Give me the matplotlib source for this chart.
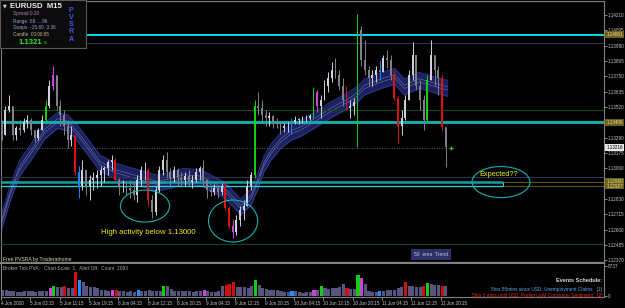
import matplotlib
matplotlib.use('Agg')
import numpy as np
import matplotlib.pyplot as plt
from matplotlib.patches import Ellipse, Rectangle

# EURUSD M15, grouped into hourly bars (4 x M15)
high = [
    1.1342, 1.1353, 1.1361, 1.1353, 1.1338, 1.1342, 1.1344, 1.1346, 1.1344, 1.1335,
    1.1336, 1.1346, 1.1357, 1.1372, 1.1383, 1.1376, 1.1357, 1.1350, 1.1342, 1.1338,
    1.1331, 1.1308, 1.1312, 1.1305, 1.1301, 1.1303, 1.1305, 1.1308, 1.1308, 1.1312,
    1.1316, 1.1314, 1.1299, 1.1297, 1.1296, 1.1297, 1.1296, 1.1301, 1.1308, 1.1311,
    1.1306, 1.1286, 1.1293, 1.1308, 1.1316, 1.1318, 1.1306, 1.1308, 1.1306, 1.1303,
    1.1303, 1.1305, 1.1301, 1.1306, 1.1308, 1.1312, 1.1297, 1.1293, 1.1294, 1.1293,
    1.1295, 1.1295, 1.1278, 1.1267, 1.1271, 1.1278, 1.1282, 1.1297, 1.1303, 1.1357,
    1.1363, 1.1357, 1.1350, 1.1348, 1.1346, 1.1344, 1.1341, 1.1340, 1.1341, 1.1344,
    1.1345, 1.1344, 1.1345, 1.1346, 1.1347, 1.1367, 1.1365, 1.1361, 1.1372, 1.1378,
    1.1386, 1.1389, 1.1380, 1.1374, 1.1368, 1.1357, 1.1359, 1.1422, 1.1413, 1.1402,
    1.1383, 1.1380, 1.1383, 1.1387, 1.1391, 1.1395, 1.1391, 1.1380, 1.1360, 1.1350,
    1.1361, 1.1380, 1.1401, 1.1391, 1.1372, 1.1361, 1.1376, 1.1402, 1.1391, 1.1383,
    1.1376, 1.1337]
low = [
    1.1327, 1.1331, 1.1348, 1.1327, 1.1327, 1.1331, 1.1333, 1.1336, 1.1331, 1.1326,
    1.1327, 1.1335, 1.1341, 1.1351, 1.1365, 1.1350, 1.1338, 1.1331, 1.1321, 1.1323,
    1.1301, 1.1284, 1.1290, 1.1286, 1.1282, 1.1290, 1.1291, 1.1293, 1.1296, 1.1301,
    1.1305, 1.1296, 1.1286, 1.1288, 1.1286, 1.1284, 1.1282, 1.1281, 1.1293, 1.1297,
    1.1278, 1.1269, 1.1271, 1.1288, 1.1301, 1.1299, 1.1293, 1.1296, 1.1293, 1.1292,
    1.1293, 1.1293, 1.1291, 1.1296, 1.1297, 1.1293, 1.1284, 1.1285, 1.1286, 1.1284,
    1.1286, 1.1275, 1.1261, 1.1254, 1.1256, 1.1263, 1.1267, 1.1278, 1.1290, 1.1299,
    1.1346, 1.1341, 1.1338, 1.1338, 1.1336, 1.1336, 1.1332, 1.1333, 1.1333, 1.1332,
    1.1339, 1.1339, 1.1340, 1.1341, 1.1342, 1.1344, 1.1348, 1.1344, 1.1357, 1.1363,
    1.1371, 1.1374, 1.1365, 1.1353, 1.1350, 1.1344, 1.1346, 1.1322, 1.1383, 1.1376,
    1.1368, 1.1368, 1.1371, 1.1372, 1.1378, 1.1381, 1.1372, 1.1357, 1.1325, 1.1331,
    1.1342, 1.1357, 1.1372, 1.1365, 1.1350, 1.1335, 1.1341, 1.1372, 1.1368, 1.1361,
    1.1335, 1.1307]
close = [
    1.1331, 1.1350, 1.1353, 1.1331, 1.1336, 1.1335, 1.1341, 1.1342, 1.1335, 1.1329,
    1.1335, 1.1342, 1.1353, 1.1368, 1.1376, 1.1353, 1.1346, 1.1338, 1.1327, 1.1331,
    1.1303, 1.1293, 1.1305, 1.1293, 1.1297, 1.1299, 1.1301, 1.1305, 1.1306, 1.1311,
    1.1312, 1.1297, 1.1293, 1.1293, 1.1291, 1.1290, 1.1286, 1.1297, 1.1305, 1.1305,
    1.1282, 1.1273, 1.1290, 1.1305, 1.1312, 1.1303, 1.1299, 1.1305, 1.1299, 1.1297,
    1.1300, 1.1296, 1.1297, 1.1303, 1.1306, 1.1297, 1.1290, 1.1288, 1.1291, 1.1288,
    1.1293, 1.1276, 1.1263, 1.1258, 1.1267, 1.1275, 1.1278, 1.1293, 1.1301, 1.1353,
    1.1351, 1.1346, 1.1344, 1.1345, 1.1341, 1.1339, 1.1336, 1.1338, 1.1338, 1.1341,
    1.1342, 1.1343, 1.1344, 1.1344, 1.1345, 1.1363, 1.1353, 1.1357, 1.1368, 1.1374,
    1.1380, 1.1376, 1.1368, 1.1357, 1.1351, 1.1353, 1.1356, 1.1410, 1.1387, 1.1380,
    1.1374, 1.1376, 1.1380, 1.1378, 1.1389, 1.1387, 1.1376, 1.1359, 1.1338, 1.1344,
    1.1357, 1.1376, 1.1391, 1.1368, 1.1357, 1.1342, 1.1372, 1.1391, 1.1380, 1.1374,
    1.1337, 1.1322]
first_open = 1.1336

# PVSRA candle highlights (bar index)
red_bars = [20, 31, 40, 61, 62, 94, 107, 108, 120]
green_bars = [12, 69, 85, 97, 116]
magenta_bars = [14, 63, 86]
blue_bars = [21, 79, 103]

# tick volume
volume = [
    1350, 1340, 1120, 1120, 900, 900, 1120, 1130, 1120, 900,
    1120, 1120, 1130, 1800, 2250, 2020, 2030, 2250, 1800, 1790,
    5390, 3600, 3150, 2250, 2020, 2020, 1800, 1350, 1340, 1120,
    1350, 1350, 1120, 1120, 900, 1120, 900, 1350, 1120, 1120,
    1350, 1120, 1120, 1120, 2250, 2240, 1570, 1120, 1120, 1130,
    1120, 1120, 900, 1120, 1120, 1350, 1120, 900, 900, 1120,
    2250, 2470, 2700, 3150, 2020, 2020, 2030, 1800, 2250, 3600,
    2470, 1800, 1570, 1350, 1350, 1340, 1120, 900, 900, 1120,
    1120, 900, 670, 900, 900, 1350, 1350, 2250, 1800, 1570,
    1800, 1800, 2020, 2700, 1800, 1570, 1570, 4720, 4040, 2700,
    1120, 900, 900, 1120, 1120, 1350, 1350, 1350, 1800, 2020,
    3150, 2250, 2250, 2020, 2020, 2250, 2920, 2700, 2470, 2470,
    2250, 2250]
vol_red = [17, 20, 31, 61, 62, 63, 94, 110, 115, 120]
vol_green = [14, 44, 69, 87, 97, 116]
vol_blue = [21, 37, 79, 103]
vol_magenta = [13, 30, 55, 85, 98]

# 50 ema ribbon, read at turning points
ema_x = [0, 2.2, 4.9, 8.5, 11.8, 15.3, 18.1, 20.5, 24.1, 26.8, 30.9, 35.9, 42.4,
         46, 49.6, 54.2, 57.8, 61.1, 65.2, 67.9, 69.8, 71.5, 73.4, 76.1, 78.9,
         81.6, 85.2, 89.8, 94.5, 96.7, 98.9, 103.5, 107.1, 109.8, 113.7, 116.4,
         120, 121.6]
ema_y = [1.1266, 1.1286, 1.1306, 1.1320, 1.1334, 1.1342, 1.1340, 1.1333, 1.1320,
         1.1310, 1.1304, 1.1300, 1.1295, 1.1297, 1.1300, 1.1299, 1.1294, 1.1289,
         1.1277, 1.1284, 1.1296, 1.1309, 1.1318, 1.1327, 1.1333, 1.1336, 1.1342,
         1.1350, 1.1357, 1.1361, 1.1367, 1.1372, 1.1375, 1.1367, 1.1372, 1.1370,
         1.1367, 1.1366]

# horizontal levels: price, colour, width, end (None = full width)
levels = [
    (1.14061, '#00e0ea', 1.4, None),
    (1.13998, '#2c3350', 0.8, None),
    (1.13497, '#0d4a16', 0.8, None),
    (1.13406, '#16a8a8', 2.2, None),
    (1.12995, '#2c3350', 0.8, None),
    (1.12961, '#16a0a0', 1.8, 136.6),
    (1.12927, '#20d8d8', 0.9, 136.6),
    (1.12492, '#0d4a16', 0.8, None),
]
current_price = 1.13216

price_ticks = [1.14210, 1.14095, 1.13980, 1.13865, 1.13750, 1.13635, 1.13520,
               1.13290, 1.13175, 1.13060, 1.12830, 1.12715, 1.12600, 1.12485,
               1.12370]
time_labels = ['4 Jun 2020', '5 Jun 03:15', '5 Jun 11:15', '5 Jun 19:15',
               '8 Jun 04:15', '8 Jun 12:15', '8 Jun 20:15', '9 Jun 04:15',
               '9 Jun 12:15', '9 Jun 20:15', '10 Jun 04:15', '10 Jun 12:15',
               '10 Jun 20:15', '11 Jun 04:15', '11 Jun 12:15', '11 Jun 20:15']

W, H = 625, 308
def fx(px): return px / W
def fy(py): return 1 - py / H

plt.rcParams['font.family'] = ['Liberation Sans', 'DejaVu Sans']
fig = plt.figure(figsize=(6.25, 3.08), dpi=100, facecolor='black')
ax = fig.add_axes([fx(1), fy(263), fx(604) - fx(1), fy(1) - fy(263)], facecolor='black')
vax = fig.add_axes([fx(1), fy(297), fx(604) - fx(1), fy(264) - fy(297)], facecolor='black')

n = len(close)
hours = np.arange(n)
opens = np.array([first_open] + close[:-1])
close_a = np.array(close)

# ema ribbon
ex = np.array(ema_x)
ey = np.array(ema_y)
ax.fill_between(ex, ey - 0.0006, ey + 0.0006, color='#1b2160', lw=0, zorder=1)
for off, c, lw in [(-0.0006, '#343d92', 0.6), (0.0006, '#343d92', 0.6),
                   (-0.00012, '#7d82a8', 0.35), (0.00012, '#7d82a8', 0.35)]:
    ax.plot(ex, ey + off, color=c, lw=lw, zorder=2)

# levels
for price, c, lw, end in levels:
    if end is None:
        ax.axhline(price, color=c, lw=lw, zorder=3)
    else:
        ax.hlines(price, -1, end, color=c, lw=lw, zorder=3)
        ax.hlines(price, end, 170, color='#6a5a12', lw=0.7, zorder=3)
ax.vlines(136.6, 1.12927, 1.12961, color='#20d8d8', lw=0.8, zorder=3)
ax.hlines(current_price, -1, 121, color='#707070', lw=0.6, ls=(0, (1, 2)), zorder=3)

# candles
colors = []
for i in range(n):
    if i in red_bars:
        colors.append('#e01010')
    elif i in green_bars:
        colors.append('#10d010')
    elif i in magenta_bars:
        colors.append('#d040e0')
    elif i in blue_bars:
        colors.append('#2080ff')
    elif close_a[i] >= opens[i]:
        colors.append('#d0d0d8')
    else:
        colors.append('#80808c')
ax.vlines(hours, low, high, colors=colors, lw=0.7, zorder=4)
ax.bar(hours, close_a - opens, bottom=opens, width=0.5, color=colors, lw=0, zorder=5)
ax.plot(n + 0.4, current_price, marker='+', color='#20e020', ms=3, mew=0.8, zorder=6)

# ellipses and notes
for cx, cy, w, h in [(39.1, 1.12777, 13.4, 0.0024), (63.1, 1.12665, 13.4, 0.00315),
                     (136.1, 1.12957, 15.8, 0.00233)]:
    ax.add_patch(Ellipse((cx, cy), w, h, fill=False, ec='#19b0b0', lw=0.8, zorder=7))
ax.text(27.1, 1.12582, 'High activity below 1.13000', color='#f0f000', fontsize=5.6,
        va='center', ha='left', zorder=8)
ax.text(130.1, 1.13010, 'Expected??', color='#f0f000', fontsize=5.3,
        va='center', ha='left', zorder=8)
ax.text(117.0, 1.12413, '50  ema  Trend', color='#c8c8d8', fontsize=3.6, va='center',
        ha='center', zorder=8,
        bbox=dict(boxstyle='square,pad=0.55', fc='#2a3068', ec='none'))

ax.set_xlim(-0.14, 164.17)
ax.set_ylim(1.12350, 1.14315)
ax.yaxis.tick_right()
ax.set_yticks(price_ticks)
ax.set_yticklabels(['%.5f' % p for p in price_ticks])
ax.tick_params(axis='y', colors='#c8c8c8', labelsize=3.3, length=2, width=0.5, pad=1)
ax.tick_params(axis='x', bottom=False, labelbottom=False)
for s in ax.spines.values():
    s.set_color('#808080')
    s.set_linewidth(0.8)
ax.spines['bottom'].set_linewidth(1.6)

tr = ax.get_yaxis_transform()
for price, txt, fc, tc in [(1.14061, '1.14061', '#6e6010', '#e0e0b0'),
                           (1.13406, '1.13406', '#6e6010', '#e0e0b0'),
                           (1.12961, '1.12960', '#6e6010', '#e0e0b0'),
                           (1.12927, '1.12927', '#6e6010', '#e0e0b0'),
                           (current_price, '1.13216', '#e8e8e8', '#000000')]:
    ax.text(1.004, price, txt, transform=tr, fontsize=3.3, color=tc, va='center', ha='left',
            bbox=dict(boxstyle='square,pad=0.2', fc=fc, ec='none'), zorder=9)

# volume panel
vcol = []
for i in range(n):
    if i in vol_red:
        vcol.append('#d01010')
    elif i in vol_green:
        vcol.append('#10d010')
    elif i in vol_blue:
        vcol.append('#2090ff')
    elif i in vol_magenta:
        vcol.append('#d040e0')
    else:
        vcol.append('#55557e')
vax.bar(hours, volume, width=0.85, color=vcol, lw=0)
vax.set_xlim(-0.14, 164.17)
vax.set_ylim(-225, 7187)
vax.yaxis.tick_right()
vax.set_yticks([0, 6737])
vax.set_yticklabels(['0', '6737'])
vax.tick_params(axis='y', colors='#c8c8c8', labelsize=3.3, length=2, width=0.5, pad=1)
tick_pos = [8 * k - 0.45 for k in range(len(time_labels))]
vax.set_xticks(tick_pos)
vax.set_xticklabels(time_labels, ha='left')
vax.tick_params(axis='x', colors='#c8c8c8', labelsize=3.3, length=2, width=0.5, pad=1)
for s in vax.spines.values():
    s.set_color('#808080')
    s.set_linewidth(0.8)
vax.spines['top'].set_visible(False)

fig.text(fx(3), fy(259), 'Free PVSRA by Traderathome', color='#d8d8a8', fontsize=3.6, va='center')
fig.text(fx(3), fy(268), 'Broker Tick PVA:   Chart Scale  1,  Alert Off,  Count  2093',
         color='#a8a8a8', fontsize=3.5, va='center')
fig.text(fx(602), fy(281), 'Events Schedule:', color='#d8d8d8', fontsize=4, weight='bold',
         va='center', ha='right')
fig.text(fx(602), fy(289), '5hrs 55mins since USD: Unemployment Claims   [1]', color='#60a8f0',
         fontsize=3.4, va='center', ha='right')
fig.text(fx(602), fy(296), '5hrs 3 mins until USD: Prelim UoM Consumer Sentiment   [2]',
         color='#f02020', fontsize=3.4, va='center', ha='right')

# info box, top left
fig.patches.append(Rectangle((fx(0), fy(48)), fx(86), fy(0) - fy(48), transform=fig.transFigure,
                             fc='#0c0c0c', ec='#5a5a5a', lw=0.8, zorder=10))
fig.text(fx(3), fy(6), '\u25bc', color='#e0e0e0', fontsize=3.5, va='center', zorder=11,
         family=['DejaVu Sans'])
fig.text(fx(10), fy(6), 'EURUSD  M15', color='#f0f0f0', fontsize=5.6, weight='bold',
         va='center', zorder=11)
info = [('Spread 0.20', '#c080c8', 14), ('Range  89  ...96', '#8ca8d8', 21),
        ('Swaps  -15.60  3.36', '#8ca8d8', 27), ('Candle  00:00:05', '#c8b888', 34)]
for txt, c, py in info:
    fig.text(fx(13), fy(py), txt, color=c, fontsize=3.4, va='center', zorder=11)
fig.text(fx(19), fy(42), '1.1321', color='#30e030', fontsize=5.6, weight='bold',
         va='center', zorder=11)
fig.text(fx(44), fy(42.5), 's', color='#30e030', fontsize=3.6, va='center', zorder=11)
for k, ch in enumerate('PVSRA'):
    fig.text(fx(71), fy(10 + 7.3 * k), ch, color='#4858e8', fontsize=5, weight='bold',
             va='center', ha='center', zorder=11)

fig.savefig('out.png', dpi=100, facecolor='black')
